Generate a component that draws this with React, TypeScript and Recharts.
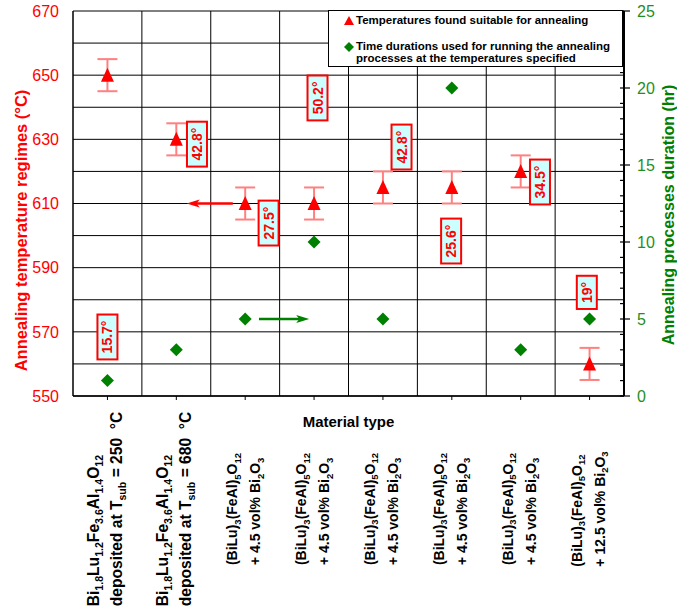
import React, { useLayoutEffect, useRef, useState } from "react";
import {
  ComposedChart,
  Scatter,
  XAxis,
  YAxis,
  CartesianGrid,
  ErrorBar,
  ReferenceLine,
  ReferenceDot,
  Legend,
  Label,
} from "recharts";

// Two-line material names; "_{..}" marks a subscript
const materials = [
  ["Bi_{1.8}Lu_{1.2}Fe_{3.6}Al_{1.4}O_{12}", "deposited at T_{sub} = 250  °C"],
  ["Bi_{1.8}Lu_{1.2}Fe_{3.6}Al_{1.4}O_{12}", "deposited at T_{sub} = 680  °C"],
  ["(BiLu)_{3}(FeAl)_{5}O_{12}", "+ 4.5 vol% Bi_{2}O_{3}"],
  ["(BiLu)_{3}(FeAl)_{5}O_{12}", "+ 4.5 vol% Bi_{2}O_{3}"],
  ["(BiLu)_{3}(FeAl)_{5}O_{12}", "+ 4.5 vol% Bi_{2}O_{3}"],
  ["(BiLu)_{3}(FeAl)_{5}O_{12}", "+ 4.5 vol% Bi_{2}O_{3}"],
  ["(BiLu)_{3}(FeAl)_{5}O_{12}", "+ 4.5 vol% Bi_{2}O_{3}"],
  ["(BiLu)_{3}(FeAl)_{5}O_{12}", "+ 12.5 vol% Bi_{2}O_{3}"],
];
const temperatures = [650, 630, 610, 610, 615, 615, 620, 560];
const tempErrors = [5, 5, 5, 5, 5, 5, 5, 5];
const durations = [1, 3, 5, 10, 5, 20, 3, 5];
const angleLabels = ["15.7°", "42.8°", "27.5°", "50.2°", "42.8°", "25.6°", "34.5°", "19°"];

const tempTicks = [550, 560, 570, 580, 590, 600, 610, 620, 630, 640, 650, 660, 670];
const hourTicks = Array.from({ length: 26 }, (_, i) => i);

// where each angle tag sits (x in category units, y in °C)
const anglePlacement = [
  { x: 0.5, y: 568.4 },
  { x: 1.8, y: 628.5 },
  { x: 2.84, y: 603.9 },
  { x: 3.55, y: 642.9 },
  { x: 4.77, y: 627.6 },
  { x: 5.49, y: 598.3 },
  { x: 6.78, y: 616.7 },
  { x: 7.46, y: 582.3 },
];

const RED = "#ff0000";
const GREEN = "#008000";
const FONT = "'Liberation Sans', Arial, sans-serif";

const tempPoints = temperatures.map((t, i) => ({ x: i + 0.5, temp: t, err: tempErrors[i] }));
const hourPoints = durations.map((h, i) => ({ x: i + 0.5, hours: h }));
const categoryTicks = materials.map((_, i) => i + 0.5);

function chemSpans(s: string, size: number) {
  const parts = s.split(/(_\{[^}]*\})/).filter(Boolean);
  const shift = size * 0.25;
  let low = false;
  return parts.map((p, i) => {
    if (p.startsWith("_{")) {
      const dy = low ? 0 : shift;
      low = true;
      return (
        <tspan key={i} dy={dy} fontSize={size * 0.68}>
          {p.slice(2, -1)}
        </tspan>
      );
    }
    const dy = low ? -shift : 0;
    low = false;
    return (
      <tspan key={i} dy={dy} style={{ whiteSpace: "pre" }}>
        {p}
      </tspan>
    );
  });
}

// rotated two-line label, block centred around cy
function MaterialLabel({ x, cy, lines, size }: { x: number; cy: number; lines: string[]; size: number }) {
  const ref = useRef<SVGGElement>(null);
  const [len, setLen] = useState(0);
  useLayoutEffect(() => {
    if (ref.current) setLen(ref.current.getBBox().width);
  }, []);
  return (
    <g transform={`translate(${x},${cy}) rotate(-90)`}>
      <g ref={ref} transform={`translate(${-len / 2},0)`}>
        {lines.map((line, i) => (
          <text
            key={i}
            x={0}
            y={i === 0 ? -8 : 15}
            fontSize={size}
            fontWeight="bold"
            fill="#000"
            fontFamily={FONT}
            xmlSpace="preserve"
          >
            {chemSpans(line, size)}
          </text>
        ))}
      </g>
    </g>
  );
}

const MaterialTick = (props: any) => {
  const { x, y, payload } = props;
  const idx = Math.round(payload.value - 0.5);
  const size = idx < 2 ? 15.6 : 14;
  return <MaterialLabel x={x} cy={y + 109} lines={materials[idx]} size={size} />;
};

const HourTick = (props: any) => {
  const { x, y, payload } = props;
  const major = payload.value % 5 === 0;
  return (
    <g>
      <line x1={x - 4} x2={major ? x + 6 : x} y1={y} y2={y} stroke="#000" strokeWidth={1.2} />
      {major && (
        <text x={x + 13} y={y} dy="0.36em" fill="#1f8f1f" fontSize={16} fontFamily={FONT}>
          {payload.value}
        </text>
      )}
    </g>
  );
};

const Triangle = (props: any) => {
  const { cx, cy } = props;
  return (
    <polygon
      points={`${cx},${cy - 7.5} ${cx + 6.5},${cy + 6.5} ${cx - 6.5},${cy + 6.5}`}
      fill={RED}
    />
  );
};

const Diamond = (props: any) => {
  const { cx, cy } = props;
  return (
    <polygon
      points={`${cx},${cy - 6.5} ${cx + 6.5},${cy} ${cx},${cy + 6.5} ${cx - 6.5},${cy}`}
      fill={GREEN}
    />
  );
};

const NoMark = () => <g />;

const angleTag = (text: string) => (props: any) => {
  const { cx, cy } = props;
  const w = Array.from(text).reduce(
    (s, c) => s + (c === "." ? 3.9 : c === "°" ? 5.6 : 7.8),
    0
  );
  const h = w + 12;
  return (
    <g transform={`translate(${cx},${cy}) rotate(-90)`}>
      <rect x={-h / 2} y={-10} width={h} height={20} fill="#ccffff" stroke={RED} strokeWidth={2} />
      <text
        x={0}
        y={0}
        dy="0.36em"
        textAnchor="middle"
        fill={RED}
        fontSize={14}
        fontWeight="bold"
        fontFamily={FONT}
      >
        {text}
      </text>
    </g>
  );
};

const arrowShape = (color: string, width: number) => (p: any) => {
  const { x1, y1, x2, y2 } = p;
  const a = Math.atan2(y2 - y1, x2 - x1);
  const len = 13;
  const half = 4;
  const bx = x2 - len * Math.cos(a);
  const by = y2 - len * Math.sin(a);
  const nx = -Math.sin(a) * half;
  const ny = Math.cos(a) * half;
  const nb = { x: bx + 3 * Math.cos(a), y: by + 3 * Math.sin(a) };
  return (
    <g>
      <line x1={x1} y1={y1} x2={nb.x} y2={nb.y} stroke={color} strokeWidth={width} />
      <polygon
        points={`${x2},${y2} ${bx + nx},${by + ny} ${nb.x},${nb.y} ${bx - nx},${by - ny}`}
        fill={color}
      />
    </g>
  );
};

const arrows = [
  { axis: "temp", from: { x: 2.32, y: 610 }, to: { x: 1.65, y: 610 }, color: RED },
  { axis: "hours", from: { x: 2.7, y: 5 }, to: { x: 3.43, y: 5 }, color: GREEN },
];

const leftTitle = (props: any) => {
  const { x, y, height } = props.viewBox;
  return (
    <text
      transform={`translate(${x + 21},${y + height / 2 + 27}) rotate(-90)`}
      textAnchor="middle"
      dy="0.36em"
      fill={RED}
      fontSize={16.5}
      fontWeight="bold"
      fontFamily={FONT}
    >
      Annealing temperature regimes (°C)
    </text>
  );
};

const rightTitle = (props: any) => {
  const { x, y, height } = props.viewBox;
  return (
    <text
      transform={`translate(${x + 44},${y + height / 2 + 11.5}) rotate(-90)`}
      textAnchor="middle"
      dy="0.36em"
      fill={GREEN}
      fontSize={16}
      fontWeight="bold"
      fontFamily={FONT}
    >
      Annealing processes duration (hr)
    </text>
  );
};

const LegendBox = () => (
  <div
    style={{
      position: "relative",
      width: 295,
      height: 57,
      border: "1px solid #000",
      background: "#fff",
      fontFamily: FONT,
      fontSize: 11.5,
      fontWeight: "bold",
      color: "#000",
      boxSizing: "border-box",
    }}
  >
    <svg width={12} height={12} style={{ position: "absolute", left: 14, top: 4 }}>
      <polygon points="6,1 11,10 1,10" fill={RED} />
    </svg>
    <div style={{ position: "absolute", left: 27, top: 3, lineHeight: "13px", whiteSpace: "nowrap" }}>
      Temperatures found suitable for annealing
    </div>
    <svg width={12} height={12} style={{ position: "absolute", left: 14, top: 30 }}>
      <polygon points="6,1 11,6 6,11 1,6" fill={GREEN} />
    </svg>
    <div style={{ position: "absolute", left: 27, top: 29, lineHeight: "12px", whiteSpace: "nowrap" }}>
      Time durations used for running the annealing
      <br />
      processes at the temperatures specified
    </div>
  </div>
);

export default function App() {
  return (
    <div style={{ position: "absolute", left: 0, top: 0, fontFamily: FONT, background: "#fff" }}>
      <ComposedChart width={677} height={615} margin={{ top: 11, right: 0, bottom: 0, left: 0 }}>
        <CartesianGrid yAxisId="temp" horizontal vertical={false} stroke="#000" strokeWidth={1} />
        <XAxis
          type="number"
          dataKey="x"
          domain={[0, 8]}
          ticks={categoryTicks}
          interval={0}
          height={219}
          tick={<MaterialTick />}
          tickSize={4}
          tickMargin={0}
          tickLine={{ stroke: "#000" }}
          axisLine={{ stroke: "#000", strokeWidth: 1.5 }}
        >
          <Label
            value="Material type"
            position="insideTop"
            offset={20}
            fill="#000"
            fontSize={15}
            fontWeight="bold"
            fontFamily={FONT}
          />
        </XAxis>
        <YAxis
          yAxisId="temp"
          dataKey="temp"
          orientation="left"
          domain={[550, 670]}
          ticks={tempTicks}
          interval={0}
          width={73}
          tickLine={false}
          tickSize={0}
          tickMargin={14}
          tick={{ fill: RED, fontSize: 16, fontFamily: FONT }}
          tickFormatter={(v: number) => ((v - 550) % 20 === 0 ? String(v) : "")}
          axisLine={{ stroke: "#000", strokeWidth: 1.5 }}
        >
          <Label content={leftTitle} />
        </YAxis>
        <YAxis
          yAxisId="hours"
          dataKey="hours"
          orientation="right"
          domain={[0, 25]}
          ticks={hourTicks}
          interval={0}
          width={53}
          tickLine={false}
          tickSize={0}
          tickMargin={0}
          tick={<HourTick />}
          axisLine={{ stroke: "#000", strokeWidth: 2 }}
        >
          <Label content={rightTitle} />
        </YAxis>
        {[1, 2, 3, 4, 5, 6, 7].map((b) => (
          <ReferenceLine key={b} x={b} yAxisId="temp" stroke="#000" strokeWidth={1} />
        ))}
        {arrows.map((a, i) => (
          <ReferenceLine
            key={`arrow-${i}`}
            yAxisId={a.axis}
            segment={[a.from, a.to]}
            shape={arrowShape(a.color, 2.5)}
          />
        ))}
        {angleLabels.map((t, i) => (
          <ReferenceDot
            key={`angle-${i}`}
            yAxisId="temp"
            x={anglePlacement[i].x}
            y={anglePlacement[i].y}
            shape={angleTag(t)}
          />
        ))}
        <Scatter
          name="Time durations used for running the annealing processes at the temperatures specified"
          yAxisId="hours"
          data={hourPoints}
          dataKey="hours"
          shape={<Diamond />}
          isAnimationActive={false}
        />
        {/* error bars first, so the triangles sit on top of them */}
        <Scatter
          name="temperature spread"
          legendType="none"
          yAxisId="temp"
          data={tempPoints}
          dataKey="temp"
          shape={<NoMark />}
          isAnimationActive={false}
        >
          <ErrorBar dataKey="err" direction="y" width={10} stroke="#ff8080" strokeWidth={2} />
        </Scatter>
        <Scatter
          name="Temperatures found suitable for annealing"
          yAxisId="temp"
          data={tempPoints}
          dataKey="temp"
          shape={<Triangle />}
          isAnimationActive={false}
        />
        <Legend
          content={<LegendBox />}
          layout="horizontal"
          verticalAlign="middle"
          align="center"
          wrapperStyle={{ left: 328, top: 10, width: 296, height: 58 }}
        />
      </ComposedChart>
    </div>
  );
}
